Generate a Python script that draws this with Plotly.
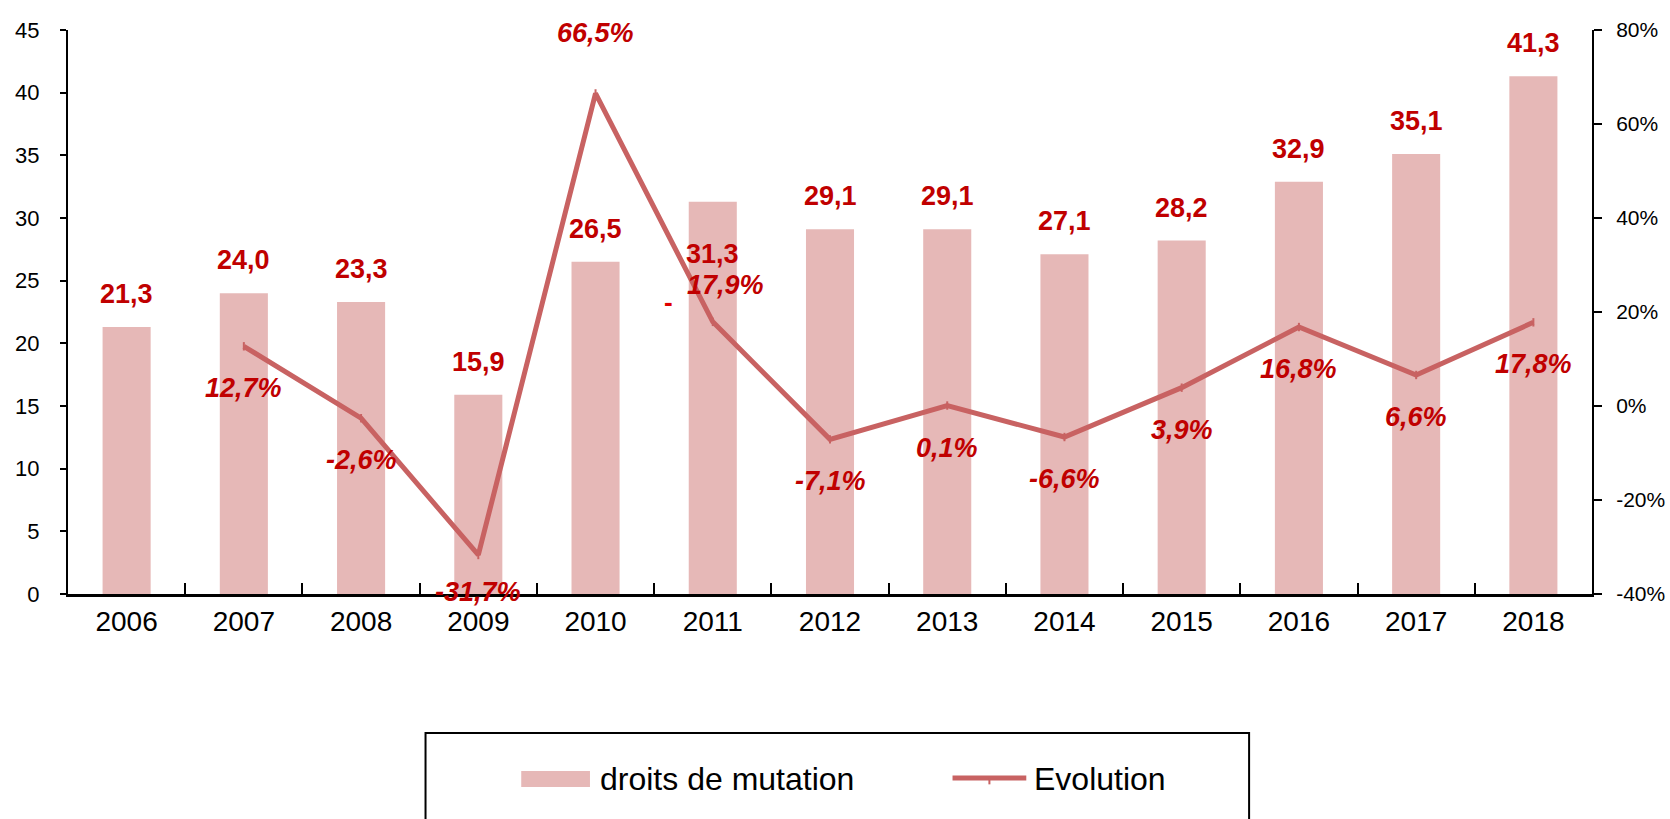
import plotly.graph_objects as go

years = ["2006", "2007", "2008", "2009", "2010", "2011", "2012",
         "2013", "2014", "2015", "2016", "2017", "2018"]
droits = [21.3, 24.0, 23.3, 15.9, 26.5, 31.3, 29.1, 29.1, 27.1, 28.2, 32.9, 35.1, 41.3]
evo_years = years[1:]
evolution = [12.7, -2.6, -31.7, 66.5, 17.9, -7.1, 0.1, -6.6, 3.9, 16.8, 6.6, 17.8]

left_ticks = [0, 5, 10, 15, 20, 25, 30, 35, 40, 45]
right_ticks = [-40, -20, 0, 20, 40, 60, 80]
right_labels = [f"{t}%" for t in right_ticks]

BAR_NAME = "droits de mutation"
LINE_NAME = "Evolution"

BAR_COLOR = "#E6B8B7"
LINE_COLOR = "#C86262"
LABEL_COLOR = "#C00000"
FONT = "Liberation Sans, Arial, sans-serif"

fig = go.Figure()
fig.add_trace(go.Bar(x=years, y=droits, name=BAR_NAME,
                     marker=dict(color=BAR_COLOR, line=dict(width=0)),
                     yaxis="y", showlegend=False))
fig.add_trace(go.Scatter(x=evo_years, y=evolution, name=LINE_NAME,
                         mode="lines+markers",
                         line=dict(color=LINE_COLOR, width=5),
                         marker=dict(symbol="line-ns", size=6,
                                     line=dict(color=LINE_COLOR, width=2)),
                         yaxis="y2", showlegend=False))

def fmt(v, suffix=""):
    return f"{v:.1f}".replace(".", ",") + suffix

ann = []
bar_shift = {"2011": -52}
for i, (yr, v) in enumerate(zip(years, droits)):
    ann.append(dict(x=i, y=v, xref="x", yref="y", text="<b>" + fmt(v) + "</b>",
                    showarrow=False, yshift=bar_shift.get(yr, 33),
                    font=dict(family=FONT, size=27, color=LABEL_COLOR)))
line_shift = {"2010": (0, 60), "2011": (13, 37), "2009": (0, -37)}
for yr, v in zip(evo_years, evolution):
    i = years.index(yr)
    dx, dy = line_shift.get(yr, (0, -42))
    ann.append(dict(x=i, y=v, xref="x", yref="y2",
                    text="<b><i>" + fmt(v, "%") + "</i></b>", showarrow=False,
                    xshift=dx, yshift=dy,
                    font=dict(family=FONT, size=27, color=LABEL_COLOR)))
ann.append(dict(x=years.index("2011"), y=evolution[4], xref="x", yref="y2",
                text="<b>-</b>", showarrow=False, xshift=-44, yshift=20,
                font=dict(family=FONT, size=26, color="#E00000")))

# hand-drawn legend (paper coordinates)
legend_font = dict(family=FONT, size=32, color="#000000")
ann.append(dict(x=0.3477, y=-0.328, xref="paper", yref="paper", text=BAR_NAME,
                showarrow=False, xanchor="left", yanchor="middle", font=legend_font))
ann.append(dict(x=0.6327, y=-0.328, xref="paper", yref="paper", text=LINE_NAME,
                showarrow=False, xanchor="left", yanchor="middle", font=legend_font))

shapes = [
    dict(type="rect", xref="paper", yref="paper",
         x0=0.2346, x1=0.775, y0=-0.45, y1=-0.2465,
         line=dict(color="#000", width=2), fillcolor="rgba(0,0,0,0)"),
    dict(type="rect", xref="paper", yref="paper",
         x0=0.2974, x1=0.3425, y0=-0.3422, y1=-0.3138,
         line=dict(width=0), fillcolor=BAR_COLOR),
    dict(type="line", xref="paper", yref="paper",
         x0=0.5804, x1=0.6288, y0=-0.3262, y1=-0.3262,
         line=dict(color=LINE_COLOR, width=5)),
    dict(type="line", xref="paper", yref="paper",
         x0=0.6046, x1=0.6046, y0=-0.3262, y1=-0.3375,
         line=dict(color=LINE_COLOR, width=2)),
]

axis_font = dict(family=FONT, size=22, color="#000000")

fig.update_layout(
    width=1670, height=819,
    margin=dict(l=68, r=78, t=30, b=225, autoexpand=False),
    plot_bgcolor="white", paper_bgcolor="white",
    bargap=0.59,
    showlegend=False,
    xaxis=dict(type="category", categoryarray=years, categoryorder="array",
               range=[-0.5, 12.5], tickson="boundaries", ticks="inside",
               ticklen=11, tickwidth=2, tickcolor="#000",
               showline=True, linecolor="#000", linewidth=3,
               tickfont=dict(family=FONT, size=28, color="#000"),
               showgrid=False, zeroline=False, automargin=False),
    yaxis=dict(range=[0, 45], tickvals=left_ticks, ticks="outside", ticklen=6,
               tickwidth=2, tickcolor="#000", showline=True, linecolor="#000",
               linewidth=2, showgrid=False, zeroline=False, tickfont=axis_font,
               ticklabelstandoff=16, automargin=False),
    yaxis2=dict(range=[-40, 80], tickvals=right_ticks, ticktext=right_labels,
                overlaying="y", side="right", ticks="outside", ticklen=8,
                tickwidth=2, tickcolor="#000", showline=True, linecolor="#000",
                linewidth=2, showgrid=False, zeroline=False,
                tickfont=dict(family=FONT, size=21, color="#000"),
                ticklabelstandoff=10, automargin=False),
    annotations=ann,
    shapes=shapes,
)

fig.write_html("out.html", config={"displayModeBar": False},
               post_script="document.body.style.margin='0';"
                           "document.body.style.overflow='hidden';")
